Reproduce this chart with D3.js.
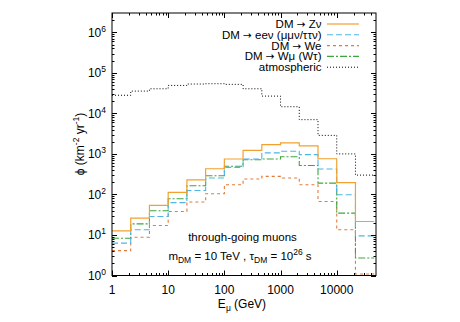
<!DOCTYPE html>
<html>
<head>
<meta charset="utf-8">
<script src="https://cdn.jsdelivr.net/npm/d3@7"></script>
<style>
  body { margin: 0; background: #fff; }
  text { font-family: "Liberation Sans", Arial, sans-serif; fill: #000; }
  .arr { font-family: "DejaVu Sans", sans-serif; }
</style>
</head>
<body>
<svg width="460" height="322"></svg>
<script>
// bin edges in E_mu (GeV), 3 bins per decade
var binEdges = [1, 2.154, 4.642, 10, 21.54, 46.42, 100, 215.4, 464.2, 1000, 2154, 4642, 10000, 21544, 46416];

// fluxes per bin (km^-2 yr^-1)
var fluxZnu  = [12.6, 26, 54, 113, 230, 430, 750, 1230, 1700, 1870, 1580, 760, 195, 21.5];
var fluxEenu = [6.3, 13.4, 28.5, 63, 125, 255, 465, 752, 1060, 1160, 960, 425, 98, 9.5];
var fluxWe   = [4.1, 8.8, 17.1, 38, 65, 104, 174, 240, 279, 255, 174, 67, 13.4, 1.09];
var fluxWmu  = [8.3, 18.8, 39.5, 78, 164, 290, 495, 720, 750, 850, 520, 190, 34.6, 2.7];
var fluxAtm  = [28000, 35500, 40500, 49000, 53000, 54000, 52000, 40500, 26700, 14600, 7000, 2870, 1000, 300];

var legendLabels = ["DM \u2192 Z\u03bd", "DM \u2192 ee\u03bd (\u03bc\u03bc\u03bd/\u03c4\u03c4\u03bd)", "DM \u2192 We", "DM \u2192 W\u03bc (W\u03c4)", "atmospheric"];
var xTickVals = [1, 10, 100, 1000, 10000];
var xTickLabels = ["1", "10", "100", "1000", "10000"];
var yTickExps = [0, 1, 2, 3, 4, 5, 6];

var svg = d3.select("svg");
var L = 112, R = 376, T = 13, B = 275.5;

var x = d3.scaleLog().domain([1, 5e4]).range([L, R]);
var y = d3.scaleLog().domain([1, 3e6]).range([B, T]);

var series = [
	{ vals: fluxAtm,  color: "#000",    dash: "1,2",     w: 1 },
	{ vals: fluxWe,   color: "#e3793a", dash: "3,3",     w: 1.1 },
	{ vals: fluxWmu,  color: "#3fa53f", dash: "7,2,2,2", w: 1.1 },
	{ vals: fluxEenu, color: "#4fb5e6", dash: "6,3",     w: 1.1 },
	{ vals: fluxZnu,  color: "#f2a12e", dash: null,      w: 1.2 }
];
// legend order
var legendSeries = [series[4], series[3], series[1], series[2], series[0]];

svg.append("clipPath").attr("id", "clip")
	.append("rect").attr("x", L).attr("y", T).attr("width", R - L).attr("height", B - T);

var line = d3.line()
	.x(function(d) { return x(d[0]); })
	.y(function(d) { return y(d[1]); })
	.curve(d3.curveStepAfter);

var plot = svg.append("g").attr("clip-path", "url(#clip)");
series.forEach(function(s) {
	var pts = s.vals.map(function(v, i) { return [binEdges[i], v]; });
	pts.push([binEdges[binEdges.length - 1], s.vals[s.vals.length - 1]]);
	plot.append("path")
		.attr("d", line(pts))
		.attr("fill", "none")
		.attr("stroke", s.color)
		.attr("stroke-width", s.w)
		.attr("stroke-dasharray", s.dash);
});

// ticks (inside, mirrored)
var minorX = [], minorY = [];
for (var e = 0; e < 5; e++) for (var k = 2; k < 10; k++) {
	var v = k * Math.pow(10, e);
	if (v < 5e4) minorX.push(v);
}
for (var e2 = 0; e2 < 7; e2++) for (var k2 = 2; k2 < 10; k2++) {
	var v2 = k2 * Math.pow(10, e2);
	if (v2 < 3e6) minorY.push(v2);
}
var ticks = svg.append("g").attr("stroke", "#000").attr("stroke-width", 1);
function tick(x1, y1, x2, y2) {
	ticks.append("line").attr("x1", x1).attr("y1", y1).attr("x2", x2).attr("y2", y2);
}
xTickVals.forEach(function(v) { var px = Math.round(x(v)) + 0.5; tick(px, B, px, B - 5); tick(px, T, px, T + 5); });
minorX.forEach(function(v) { var px = Math.round(x(v)) + 0.5; tick(px, B, px, B - 2.5); tick(px, T, px, T + 2.5); });
yTickExps.forEach(function(k) { var py = Math.round(y(Math.pow(10, k))) + 0.5; tick(L, py, L + 5, py); tick(R, py, R - 5, py); });
minorY.forEach(function(v) { var py = Math.round(y(v)) + 0.5; tick(L, py, L + 2.5, py); tick(R, py, R - 2.5, py); });

svg.append("rect")
	.attr("x", L).attr("y", T).attr("width", R - L).attr("height", B - T)
	.attr("fill", "none").attr("stroke", "#000").attr("stroke-width", 1);

// x tick labels
svg.append("g").selectAll("text").data(xTickVals).enter().append("text")
	.attr("x", function(d) { return x(d); })
	.attr("y", 293.5)
	.attr("text-anchor", "middle")
	.attr("font-size", 12)
	.text(function(d, i) { return xTickLabels[i]; });

// y tick labels 10^k
var yl = svg.append("g").selectAll("text").data(yTickExps).enter().append("text")
	.attr("x", 106)
	.attr("y", function(d) { return y(Math.pow(10, d)) + 4.5; })
	.attr("text-anchor", "end")
	.attr("font-size", 12);
yl.append("tspan").text("10");
yl.append("tspan").attr("dy", -5).attr("font-size", 8.5).text(function(d) { return d; });

// axis titles
var xt = svg.append("text").attr("x", 242).attr("y", 308).attr("text-anchor", "middle").attr("font-size", 12);
xt.append("tspan").text("E");
xt.append("tspan").attr("dy", 3).attr("font-size", 8.5).text("\u03bc");
xt.append("tspan").attr("dy", -3).text(" (GeV)");

var yt = svg.append("text").attr("transform", "translate(84,144) rotate(-90)")
	.attr("text-anchor", "middle").attr("font-size", 12);
yt.append("tspan").text("\u03d5 (km");
yt.append("tspan").attr("dy", -5).attr("font-size", 8.5).text("-2");
yt.append("tspan").attr("dy", 5).text(" yr");
yt.append("tspan").attr("dy", -5).attr("font-size", 8.5).text("-1");
yt.append("tspan").attr("dy", 5).text(")");

// legend
var lg = svg.append("g");
legendSeries.forEach(function(s, i) {
	var ly = 24 + i * 10.8;
	var t = lg.append("text").attr("x", 321.5).attr("y", ly + 4).attr("text-anchor", "end")
		.attr("font-size", 11.5);
	var parts = legendLabels[i].split("\u2192");
	t.append("tspan").text(parts[0]);
	if (parts.length > 1) {
		t.append("tspan").attr("class", "arr").attr("font-size", 10.5).text("\u2192");
		t.append("tspan").text(parts[1]);
	}
	lg.append("line").attr("x1", 327).attr("x2", 359).attr("y1", ly).attr("y2", ly)
		.attr("stroke", s.color).attr("stroke-width", s.w).attr("stroke-dasharray", s.dash);
});

// annotation
svg.append("text").attr("x", 242.5).attr("y", 241).attr("text-anchor", "middle")
	.attr("font-size", 11.5).text("through-going muons");
var an = svg.append("text").attr("x", 240).attr("y", 260).attr("text-anchor", "middle").attr("font-size", 11.5);
an.append("tspan").text("m");
an.append("tspan").attr("dy", 3).attr("font-size", 8.5).text("DM");
an.append("tspan").attr("dy", -3).text(" = 10 TeV ,  \u03c4");
an.append("tspan").attr("dy", 3).attr("font-size", 8.5).text("DM");
an.append("tspan").attr("dy", -3).text(" = 10");
an.append("tspan").attr("dy", -5).attr("font-size", 8.5).text("26");
an.append("tspan").attr("dy", 5).text(" s");
</script>
</body>
</html>
